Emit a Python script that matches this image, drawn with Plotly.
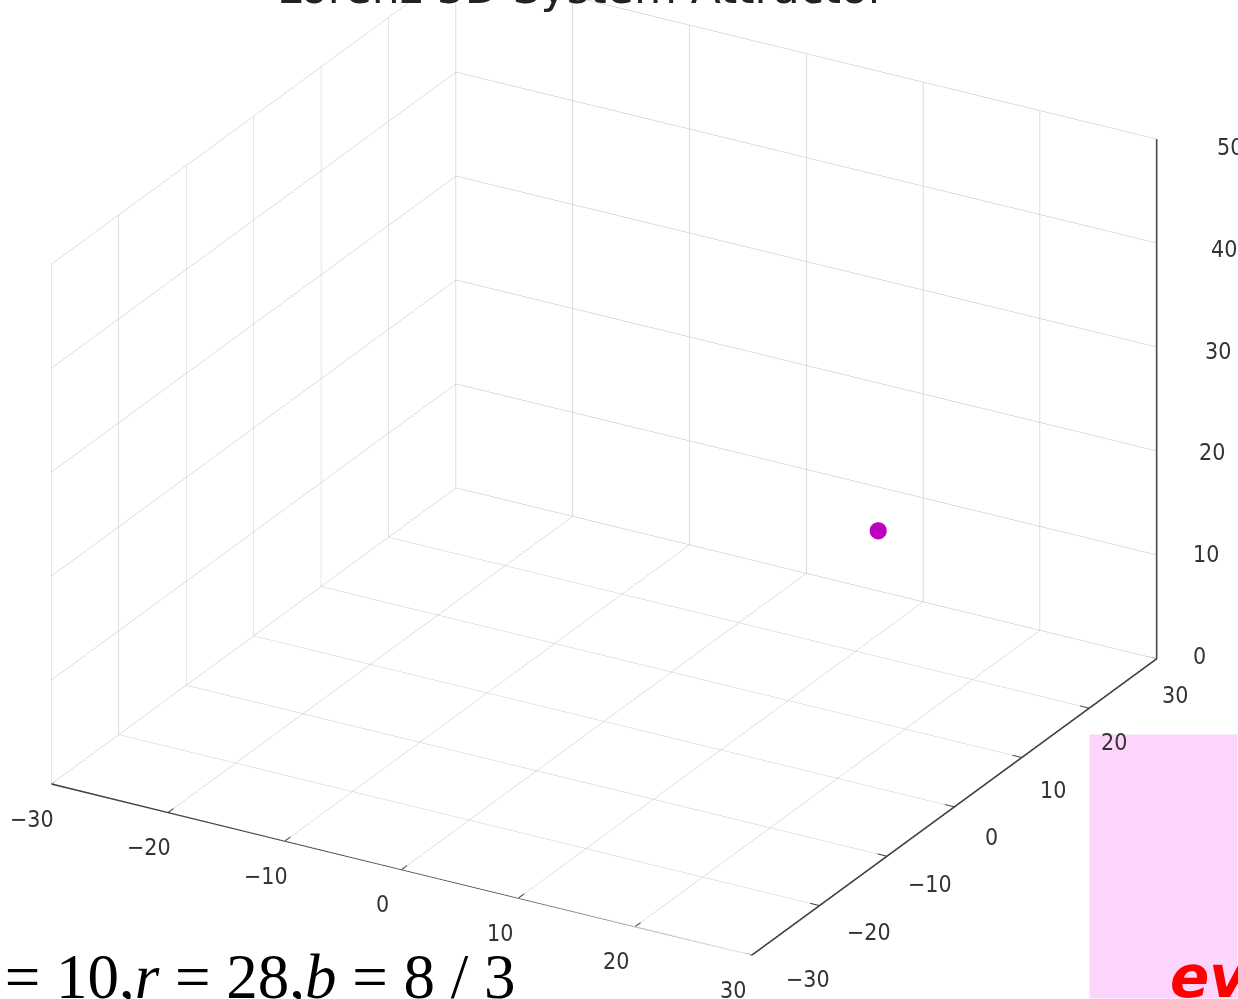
import plotly.graph_objects as go
import math

# Data
point_x = [14.8]
point_y = [15.0]
point_z = [15.3]
x_ticks = [-30, -20, -10, 0, 10, 20, 30]
y_ticks = [-30, -20, -10, 0, 10, 20, 30]
z_ticks = [0, 10, 20, 30, 40, 50]
title_text = "Lorenz 3D System Attractor"
param_text = "σ = 10,<i>r</i> = 28,<i>b</i> = 8 / 3"
box_text = "every"

W, H = 1238, 999
XR, YR, ZR = [-30, 30], [-30, 30], [0, 50]

def lbl(v):
    return ("\u2212" + str(abs(v))) if v < 0 else str(v)

fig = go.Figure()

AX_COLOR = "#222222"
TICK_FONT = dict(family="DejaVu Sans Condensed, Liberation Sans Narrow, DejaVu Sans", size=23, color="#333333")

def add_line(xs, ys, zs, width=3):
    fig.add_trace(go.Scatter3d(x=xs, y=ys, z=zs, mode="lines",
                               line=dict(color=AX_COLOR, width=width),
                               hoverinfo="skip", showlegend=False))

scene_ann = []

# x axis along y = min, z = min
y0, z0 = YR[0], ZR[0]
add_line(XR, [y0, y0], [z0, z0])
tx, ty, tz = [], [], []
for v in x_ticks:
    tx += [v, v, None]; ty += [y0 + 0.8, y0 - 1.6, None]; tz += [z0, z0, None]
add_line(tx, ty, tz, 2)
for v in x_ticks:
    scene_ann.append(dict(x=v, y=y0, z=z0, text=lbl(v), showarrow=False,
                          xshift=-19, yshift=-35, font=TICK_FONT))

# y axis along x = max, z = min
x1 = XR[1]
add_line([x1, x1], YR, [z0, z0])
tx, ty, tz = [], [], []
for v in y_ticks:
    tx += [x1 - 0.8, x1 + 1.6, None]; ty += [v, v, None]; tz += [z0, z0, None]
add_line(tx, ty, tz, 2)
for i, v in enumerate(y_ticks):
    scene_ann.append(dict(x=x1, y=v, z=z0, text=lbl(v), showarrow=False,
                          xshift=56 - 6.3 * i, yshift=-(24 + 2 * i), font=TICK_FONT))

# z axis along x = max, y = max
y1 = YR[1]
add_line([x1, x1], [y1, y1], ZR)
tx, ty, tz = [], [], []
for v in z_ticks:
    tx += [x1 - 0.6, x1 + 1.4, None]; ty += [y1 + 0.6, y1 - 1.4, None]; tz += [v, v, None]
add_line(tx, ty, tz, 2)
for v in z_ticks:
    scene_ann.append(dict(x=x1, y=y1, z=v, text=lbl(v), showarrow=False,
                          xshift=43 + 0.6 * v, yshift=3 - 0.22 * v, font=TICK_FONT))

# the point
fig.add_trace(go.Scatter3d(
    x=point_x, y=point_y, z=point_z, mode="markers",
    marker=dict(size=10, color="#BF00BF", line=dict(width=0)),
    showlegend=False,
))

def ax(ticks, rng):
    return dict(
        range=rng, tickvals=ticks, showbackground=False,
        gridcolor="#bdbdbd", gridwidth=1,
        showline=False, ticks="", showticklabels=False,
        zeroline=False, showspikes=False, title=dict(text=""),
    )

el = math.radians(25)
az = math.radians(-60)
r = 1.9
d = (math.cos(el) * math.cos(az), math.cos(el) * math.sin(az), math.sin(el))
up = (-math.sin(el) * math.cos(az), -math.sin(el) * math.sin(az), math.cos(el))
right = (-math.sin(az), math.cos(az), 0.0)
s_up, s_right = -0.076, 0.030
c = [s_up * up[i] + s_right * right[i] for i in range(3)]

fig.update_layout(
    width=W, height=H, margin=dict(l=0, r=0, t=0, b=0),
    paper_bgcolor="white",
    scene=dict(
        domain=dict(x=[0, 1], y=[0, 1]),
        xaxis=ax(x_ticks, XR),
        yaxis=ax(y_ticks, YR),
        zaxis=ax(z_ticks, ZR),
        aspectmode="manual", aspectratio=dict(x=1.62, y=1.62, z=1.148),
        camera=dict(
            eye=dict(x=c[0] + r * d[0], y=c[1] + r * d[1], z=c[2] + r * d[2]),
            center=dict(x=c[0], y=c[1], z=c[2]),
            projection=dict(type="orthographic"),
        ),
        annotations=scene_ann,
    ),
    annotations=[
        dict(text=title_text, xref="paper", yref="paper", x=0.470, y=1, xanchor="center", yanchor="bottom",
             yshift=-15, showarrow=False, font=dict(family="DejaVu Sans", size=44, color="#222222")),
        dict(text="", xref="paper", yref="paper", x=1, y=0, xanchor="right", yanchor="bottom",
             width=147, height=263, borderpad=0, bgcolor="rgba(252,208,252,0.92)", showarrow=False),
        dict(text="<b><i>" + box_text + "</i></b>", xref="paper", yref="paper", x=1168 / W, y=0, xanchor="left",
             yanchor="bottom", yshift=-14, showarrow=False, font=dict(family="DejaVu Sans", size=58, color="#ff0000")),
        dict(text=param_text, xref="paper", yref="paper", x=0, y=0, xanchor="left", yanchor="bottom",
             xshift=-47, yshift=-15, showarrow=False, font=dict(family="Liberation Serif", size=63, color="#000000")),
    ],
)

fig.write_html("out.html")
